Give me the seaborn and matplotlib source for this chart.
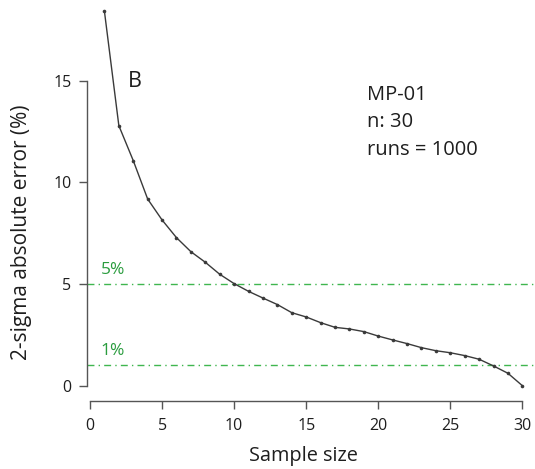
# ---------------------------------------------------
# 2-sigma error vs sample size (MP-01)
# ---------------------------------------------------

import matplotlib
matplotlib.use("Agg")
import matplotlib.pyplot as plt
import seaborn as sns
import pandas as pd

# Data
sample_size = [1, 2, 3, 4, 5, 6, 7, 8, 9, 10,
               11, 12, 13, 14, 15, 16, 17, 18, 19, 20,
               21, 22, 23, 24, 25, 26, 27, 28, 29, 30]
abs_error = [18.41, 12.79, 11.07, 9.18, 8.15, 7.28, 6.59, 6.07, 5.48, 5.02,
             4.64, 4.31, 3.99, 3.59, 3.38, 3.10, 2.87, 2.79, 2.66, 2.44,
             2.25, 2.07, 1.87, 1.72, 1.62, 1.48, 1.30, 0.97, 0.61, 0.00]

thresholds = [5, 1]
threshold_labels = ["5%", "1%"]
x_ticks = [0, 5, 10, 15, 20, 25, 30]
y_ticks = [0, 5, 10, 15]
info_lines = ["MP-01", "n: 30", "runs = 1000"]

df = pd.DataFrame({"sample_size": sample_size, "abs_error": abs_error})

sns.set_style("ticks")
plt.rcParams["font.family"] = ["Open Sans", "DejaVu Sans"]

GREEN_LINE = "#3fb64f"
GREEN_TEXT = "#2a9c3e"
AX_GREY = "#555555"
TXT = "#1e1e1e"

fig = plt.figure(figsize=(5.35, 4.69), dpi=100)
ax = fig.add_axes([0.1621, 0.145, 0.838, 0.855])

# threshold lines
for t, lab in zip(thresholds, threshold_labels):
    ax.axhline(t, color=GREEN_LINE, lw=1.0, linestyle=(0, (5, 3, 1, 3)), zorder=1)
    ax.text(0.72, t + 0.5, lab, color=GREEN_TEXT, fontsize=12.5,
            ha="left", va="baseline")

# main curve
sns.lineplot(data=df, x="sample_size", y="abs_error", ax=ax, color="#3a3a3a",
             lw=1.0, marker="o", markersize=2.6, markeredgewidth=0, zorder=3)

ax.set_xlim(-0.229, 30.88)
ax.set_ylim(-0.753, 18.97)
ax.set_xticks(x_ticks)
ax.set_yticks(y_ticks)

# R-style detached axes
sns.despine(ax=ax)
ax.spines["left"].set_bounds(0, 15)
ax.spines["bottom"].set_bounds(0, 30)
for s in ["left", "bottom"]:
    ax.spines[s].set_color(AX_GREY)
    ax.spines[s].set_linewidth(1.0)
ax.tick_params(direction="out", length=6, width=1.0, color=AX_GREY,
               labelsize=11.5, labelcolor=TXT)
ax.tick_params(axis="x", pad=6)
ax.tick_params(axis="y", pad=5)

ax.set_xlabel("Sample size", fontsize=14.3, color=TXT)
ax.set_ylabel("2-sigma absolute error (%)", fontsize=15, color=TXT)
ax.xaxis.set_label_coords(0.4825, -0.113)
ax.yaxis.set_label_coords(-0.1227, 0.421)

# annotations
ax.text(3.1, 14.95, "B", fontsize=15.5, ha="center", va="center", color=TXT)
for line, yb in zip(info_lines, [14.05, 12.70, 11.35]):
    ax.text(19.25, yb, line, fontsize=14.5, ha="left", va="baseline", color=TXT)

fig.savefig("out.png", dpi=100)
plt.close(fig)
